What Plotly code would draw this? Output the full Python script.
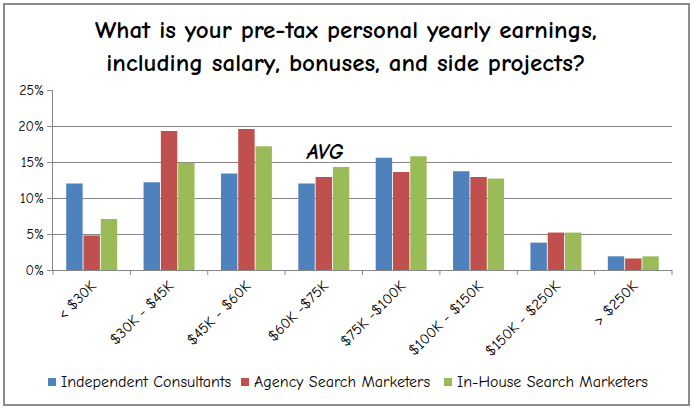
import plotly.graph_objects as go

categories = ["< $30K", "$30K - $45K", "$45K - $60K", "$60K -$75K", "$75K -$100K",
              "$100K - $150K", "$150K - $250K", "> $250K"]
independent = [12.0, 12.2, 13.4, 12.0, 15.6, 13.7, 3.8, 1.9]
agency = [4.8, 19.3, 19.6, 12.9, 13.6, 12.9, 5.2, 1.6]
inhouse = [7.1, 14.9, 17.2, 14.3, 15.8, 12.7, 5.2, 1.9]
series_names = ["Independent Consultants", "Agency Search Marketers", "In-House Search Marketers"]
colors = ["#4F81BD", "#C0504D", "#9BBB59"]
y_ticks = [0, 5, 10, 15, 20, 25]
y_tick_labels = ["0%", "5%", "10%", "15%", "20%", "25%"]

FONT = "Comic Sans MS, Comic Neue, Noto Sans, DejaVu Sans, sans-serif"

fig = go.Figure()
for name, vals, c in zip(series_names, [independent, agency, inhouse], colors):
    fig.add_trace(go.Bar(x=categories, y=vals, name=name, showlegend=False,
                         marker=dict(color=c, line=dict(width=0))))

W, H = 693, 411
L, R, T, B = 53, 21, 90, 141
pw, ph = W - L - R, H - T - B

def px2paper_x(px):
    return (px - L) / pw

def px2paper_y(py):
    return (H - B - py) / ph

fig.update_layout(
    width=W, height=H,
    margin=dict(l=L, r=R, t=T, b=B, autoexpand=False),
    paper_bgcolor="white", plot_bgcolor="white",
    barmode="group", bargap=0.33, bargroupgap=0.05,
    font=dict(family=FONT, color="black"),
    xaxis=dict(showgrid=False, showline=True, linecolor="#868686", linewidth=1,
               ticks="", tickangle=-45, tickfont=dict(size=15, family=FONT),
               fixedrange=True, automargin=False),
    yaxis=dict(range=[0, 25], tickvals=y_ticks, ticktext=y_tick_labels,
               showgrid=True, gridcolor="#868686", gridwidth=1,
               showline=True, linecolor="#868686", linewidth=1,
               ticks="outside", ticklen=5, tickcolor="#868686",
               tickfont=dict(size=14, family=FONT), zeroline=False, automargin=False),
    showlegend=False,
)

# category boundary tick marks
shapes = []
for i in range(len(categories) + 1):
    xp = i / len(categories)
    shapes.append(dict(type="line", xref="paper", yref="paper", x0=xp, x1=xp,
                       y0=0, y1=-5 / ph, line=dict(color="#868686", width=1)))
# outer border
shapes.append(dict(type="rect", xref="paper", yref="paper",
                   x0=px2paper_x(4), x1=px2paper_x(689),
                   y0=px2paper_y(405), y1=px2paper_y(4),
                   line=dict(color="#8C8C8C", width=2), fillcolor="rgba(0,0,0,0)"))

# title
fig.add_annotation(text="<b>What is your pre-tax personal yearly earnings,<br>including salary, bonuses, and side projects?</b>",
                   xref="paper", yref="paper", x=px2paper_x(346), y=px2paper_y(46),
                   xanchor="center", yanchor="middle", showarrow=False,
                   font=dict(size=25, family=FONT, color="black"))

fig.add_annotation(text="<b><i>AVG</i></b>", xref="paper", yref="paper",
                   x=px2paper_x(325), y=px2paper_y(152), showarrow=False,
                   font=dict(size=21, family=FONT, color="black"))

# legend (manual, compact like the original)
legend_x = [48, 241, 444]
for name, c, lx in zip(series_names, colors, legend_x):
    shapes.append(dict(type="rect", xref="paper", yref="paper",
                       x0=px2paper_x(lx), x1=px2paper_x(lx + 8),
                       y0=px2paper_y(386), y1=px2paper_y(378),
                       line=dict(width=0), fillcolor=c))
    fig.add_annotation(text=name, xref="paper", yref="paper",
                       x=px2paper_x(lx + 11), y=px2paper_y(382),
                       xanchor="left", yanchor="middle", showarrow=False,
                       font=dict(size=16, family=FONT, color="black"))
fig.update_layout(shapes=shapes)

fig.write_html("out.html", config={"displayModeBar": False},
               post_script="document.body.style.margin='0';")
